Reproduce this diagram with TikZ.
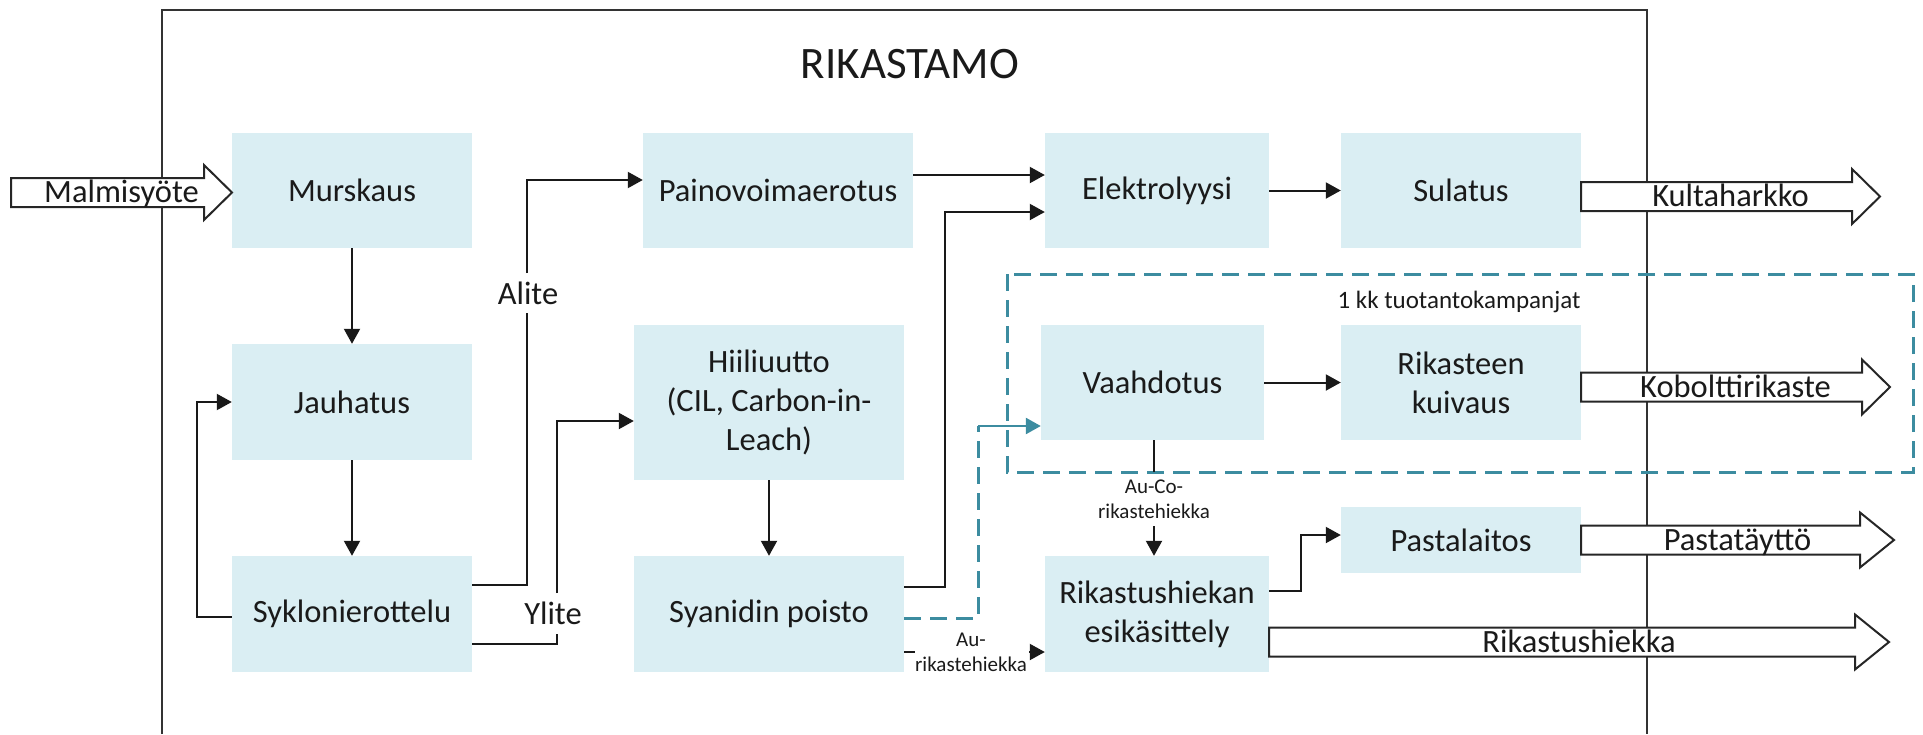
\documentclass[tikz,border=0pt]{standalone}
\usepackage{fontspec}
\setmainfont{Carlito}
\usetikzlibrary{arrows.meta}
\definecolor{boxfill}{HTML}{DAEEF3}
\definecolor{campteal}{RGB}{60,140,160}
\definecolor{inkgray}{HTML}{1A1A1A}

% process box given by its corners (x1,y1) (x2,y2)
\newcommand\procbox[6]{%
  \node[proc, minimum width={(#4-#2)*1pt}, minimum height={(#5-#3)*1pt}]
    (#1) at ({(#2+#4)/2},{(#3+#5)/2}) {#6};}

% wide outline arrow: name, tail x, head base x, tip x, centre y, label
\newcommand\flowarrow[6]{%
  \draw[blockarrow] (#2,#5-14.5) -- (#3,#5-14.5) -- (#3,#5-27.5) -- (#4,#5)
    -- (#3,#5+27.5) -- (#3,#5+14.5) -- (#2,#5+14.5) -- cycle;
  \node[flowlbl] (#1) at ({(#2+#4)/2},#5+10) {#6};}

\begin{document}
\begin{tikzpicture}[x=1pt,y=-1pt,
  proc/.style={fill=boxfill, draw=none, inner sep=0pt, align=center, text=inkgray,
    font=\fontsize{32.5}{39}\selectfont},
  conn/.style={line width=2pt, draw=black!90},
  arr/.style={conn, -{Triangle[length=15pt,width=16pt]}},
  tealconn/.style={line width=3pt, draw=campteal, dash pattern=on 17pt off 9pt},
  tealarr/.style={line width=2.5pt, draw=campteal, -{Triangle[length=15pt,width=16pt]}},
  blockarrow/.style={draw=black!85, line width=2pt, fill=white, line join=miter},
  flowlbl/.style={anchor=base, inner sep=0pt, text=inkgray, font=\fontsize{32.5}{39}\selectfont},
  sidelbl/.style={inner sep=0pt, text=inkgray, font=\fontsize{32.5}{39}\selectfont},
  smalllbl/.style={inner sep=0pt, align=center, text=inkgray, font=\fontsize{21}{25}\selectfont},
]
\useasboundingbox (0,0) rectangle (1923,734);

% plant boundary
\draw[line width=2.5pt, draw=black!80] (162,734) -- (162,10) -- (1647,10) -- (1647,734);
\node[inner sep=0pt, text=inkgray, font=\fontsize{45}{54}\selectfont] (title) at (910,64) {RIKASTAMO};

% campaign area
\draw[tealconn] (1007,274) rectangle (1913,472);
\node[inner sep=0pt, text=inkgray, font=\fontsize{25}{30}\selectfont] (camp) at (1459,302) {1 kk tuotantokampanjat};

% process steps
\procbox{mur}{232}{133}{472}{248}{Murskaus}
\procbox{jau}{232}{344}{472}{460}{Jauhatus}
\procbox{syk}{232}{556}{472}{672}{Syklonierottelu}
\procbox{pai}{643}{133}{913}{248}{Painovoimaerotus}
\procbox{hii}{634}{325}{904}{480}{Hiiliuutto\\(CIL, Carbon-in-\\Leach)}
\procbox{sya}{634}{556}{904}{672}{Syanidin poisto}
\procbox{ele}{1045}{133}{1269}{248}{Elektrolyysi}
\procbox{sul}{1341}{133}{1581}{248}{Sulatus}
\procbox{vaa}{1041}{325}{1264}{440}{Vaahdotus}
\procbox{rik}{1341}{325}{1581}{440}{Rikasteen\\kuivaus}
\procbox{rhe}{1045}{556}{1269}{672}{Rikastushiekan\\esikäsittely}
\procbox{pas}{1341}{507}{1581}{573}{Pastalaitos}

% grinding circuit
\draw[arr] (mur.south) -- (jau.north);
\draw[arr] (jau.south) -- (syk.north);
\draw[arr] (syk.west |- 0,617) -- (197,617) -- (197,402) -- (jau.west |- 0,402);

% underflow to gravity separation
\coordinate (alitebot) at (527,313);
\coordinate (alitetop) at (527,273);
\node[sidelbl] (alite) at (528,293) {Alite};
\draw[conn] (syk.east |- 0,585) -- (527,585) -- (alitebot);
\draw[arr] (alitetop) -- (527,180) -- (pai.west |- 0,180);

% overflow to leaching
\coordinate (ylitebot) at (557,634);
\coordinate (ylitetop) at (557,593);
\node[sidelbl] (ylite) at (553,613) {Ylite};
\draw[conn] (syk.east |- 0,644) -- (557,644) -- (ylitebot);
\draw[arr] (ylitetop) -- (557,421) -- (hii.west |- 0,421);

\draw[arr] (hii.south) -- (sya.north);
\draw[arr] (pai.east |- 0,175) -- (ele.west |- 0,175);
\draw[arr] (sya.east |- 0,587) -- (945,587) -- (945,212) -- (ele.west |- 0,212);
\draw[arr] (ele.east) -- (sul.west);
\draw[arr] (vaa.east) -- (rik.west);

% campaign feed to flotation
\coordinate (tealbend) at (978,426);
\draw[tealconn] (sya.east |- 0,618) -- (tealbend |- 0,618) -- (tealbend);
\draw[tealarr] (tealbend) -- (vaa.west |- tealbend);

% flotation tailings
\coordinate (aucotop) at (1154,472);
\coordinate (aucobot) at (1154,526);
\node[smalllbl] (aucolbl) at (1154,499) {Au-Co-\\rikastehiekka};
\draw[conn] (aucotop |- vaa.south) -- (aucotop);
\draw[arr] (aucobot) -- (aucobot |- rhe.north);

% leach tailings
\coordinate (aurleft) at (915,652);
\coordinate (aurright) at (1029,652);
\node[smalllbl] (aurlbl) at (971,652) {Au-\\rikastehiekka};
\draw[conn] (sya.east |- aurleft) -- (aurleft);
\draw[arr] (aurright) -- (rhe.west |- aurright);

\draw[arr] (rhe.east |- 0,591) -- (1301,591) -- (1301,535) -- (pas.west |- 0,535);

% feeds and products
\flowarrow{malm}{11}{204}{232}{192.5}{Malmisyöte}
\flowarrow{kult}{1581}{1852}{1880}{196.5}{Kultaharkko}
\flowarrow{kob}{1581}{1862}{1890}{387}{Kobolttirikaste}
\flowarrow{pasta}{1581}{1860}{1894}{540}{Pastatäyttö}
\flowarrow{rhk}{1269}{1855}{1889}{642}{Rikastushiekka}
\end{tikzpicture}
\end{document}
